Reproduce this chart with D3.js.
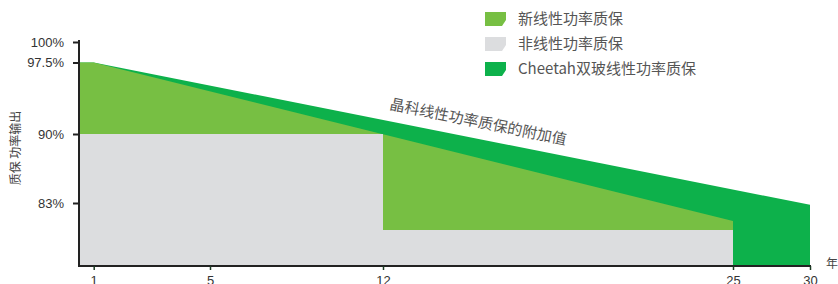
<!DOCTYPE html>
<html>
<head>
<meta charset="utf-8">
<script src="https://cdn.jsdelivr.net/npm/d3@7"></script>
<style>
  html, body { margin: 0; padding: 0; background: #fff; }
  text { font-family: "Liberation Sans", Arial, sans-serif; }
  .cjk { font-family: "Noto Sans CJK SC", sans-serif; }
</style>
</head>
<body>
<div id="canvas"></div>
<script>
"use strict"

let drawingWidth = 838;
let drawingHeight = 284;

/* x ticks (years) and y ticks (percent) */
let yearTicks = [1, 5, 12, 25, 30];
let percentTicks = [83, 90, 97.5, 100];
let percentLabels = ["83%", "90%", "97.5%", "100%"];

/* Cheetah bifacial linear warranty */
let cheetahYears = [0, 1, 30];
let cheetahValues = [97.5, 97.5, 82.8];

/* new linear warranty */
let linearYears = [0, 1, 25];
let linearValues = [97.5, 97.5, 81];

/* old step warranty */
let stepYears = [0, 12, 12, 25];
let stepValues = [90, 90, 80, 80];

let legendNames = ["新线性功率质保", "非线性功率质保", "Cheetah双玻线性功率质保"];
let legendColors = ["#77bf43", "#dcdddf", "#0db14b"];

let drawing = d3.select("#canvas")
    .append("svg")
    .attr("width", drawingWidth)
    .attr("height", drawingHeight);

/* the picture is schematic, so the scales are piecewise */
let x = d3.scaleLinear()
    .domain([0, 1, 5, 12, 25, 30])
    .range([79, 93.7, 210, 383, 733, 810]);

let y = d3.scaleLinear()
    .domain([76, 83, 90, 97.5, 100])
    .range([266, 203, 134, 62.5, 42]);

function zip(xs, vs) {
    return xs.map((d, i) => ({ year: d, value: vs[i] }));
}

let area = d3.area()
    .x(d => x(d.year))
    .y0(y(76))
    .y1(d => y(d.value));

drawing.append("path")
    .attr("d", area(zip(cheetahYears, cheetahValues)))
    .attr("fill", legendColors[2]);

drawing.append("path")
    .attr("d", area(zip(linearYears, linearValues)))
    .attr("fill", legendColors[0]);

drawing.append("path")
    .attr("d", area(zip(stepYears, stepValues)))
    .attr("fill", legendColors[1]);

/* axes */
let yAxis = drawing.append("g")
    .attr("transform", "translate(79,0)")
    .call(d3.axisLeft(y)
        .tickValues(percentTicks)
        .tickFormat((d, i) => percentLabels[i])
        .tickSize(6)
        .tickSizeOuter(0)
        .tickPadding(9));

yAxis.select(".domain").attr("stroke", "#222").attr("stroke-width", 2)
    .attr("d", "M0,40V267");
yAxis.selectAll(".tick line").attr("stroke", "#222").attr("stroke-width", 2);
yAxis.selectAll(".tick text")
    .attr("fill", "#333")
    .style("font-size", "13px");

let xAxis = drawing.append("g")
    .attr("transform", "translate(0,266)")
    .call(d3.axisBottom(x)
        .tickValues(yearTicks)
        .tickSize(4)
        .tickSizeOuter(0)
        .tickPadding(6));

xAxis.select(".domain").attr("stroke", "#222").attr("stroke-width", 2)
    .attr("d", "M78,0H811");
xAxis.selectAll(".tick line").attr("stroke", "#1b3a22").attr("stroke-width", 1.5);
xAxis.selectAll(".tick text")
    .attr("fill", "#333")
    .style("font-size", "13px");

/* axis titles */
drawing.append("text")
    .attr("class", "cjk")
    .attr("transform", "translate(20,148) rotate(-90)")
    .attr("text-anchor", "middle")
    .attr("fill", "#444")
    .style("font-size", "12px")
    .text("质保 功率输出");

drawing.append("text")
    .attr("class", "cjk")
    .attr("x", 826)
    .attr("y", 268)
    .attr("fill", "#444")
    .style("font-size", "12px")
    .text("年");

/* label along the slope */
drawing.append("text")
    .attr("class", "cjk")
    .attr("transform", "translate(389,109) rotate(11.5)")
    .attr("fill", "#555")
    .style("font-size", "15px")
    .text("晶科线性功率质保的附加值");

/* legend */
let legend = drawing.append("g").attr("transform", "translate(485,12)");

legendNames.forEach(function (name, i) {
    let row = legend.append("g").attr("transform", "translate(0," + (i * 25) + ")");
    row.append("polygon")
        .attr("points", "0,0 21,0 21,8 17,14 0,14")
        .attr("fill", legendColors[i]);
    row.append("text")
        .attr("class", "cjk")
        .attr("x", 33)
        .attr("y", 12)
        .attr("fill", "#555")
        .style("font-size", "15px")
        .text(name);
});
</script>
</body>
</html>
